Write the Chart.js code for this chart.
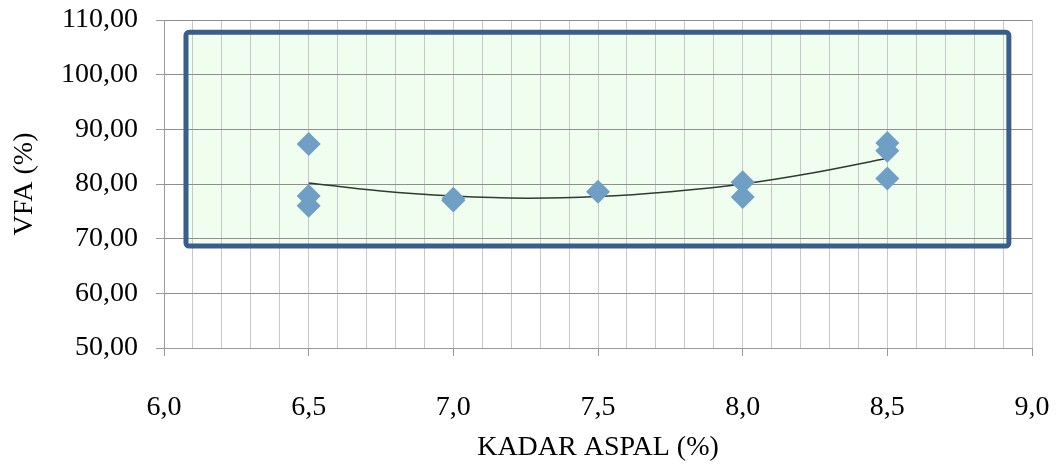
<!DOCTYPE html>
<html>
<head>
<meta charset="utf-8">
<script src="https://cdn.jsdelivr.net/npm/chart.js@4"></script>
<style>
  html, body { margin: 0; padding: 0; background: #fff; }
  #wrap { width: 1057px; height: 470px; }
</style>
</head>
<body>
<div id="wrap"><canvas id="grafica" width="1057" height="470"></canvas></div>
<script>
// data
const kadarAspal = [6.5, 6.5, 6.5, 7.0, 7.0, 7.5, 8.0, 8.0, 8.5, 8.5, 8.5];
const nilaiVFA   = [87.3, 77.8, 76.0, 77.3, 77.0, 78.6, 80.3, 77.6, 87.5, 86.1, 81.0];

// trend line
const trendX = [6.5, 6.75, 7.0, 7.25, 7.5, 7.75, 8.0, 8.25, 8.5];
const trendY = [80.2, 78.7, 77.8, 77.4, 77.7, 78.6, 80.0, 82.1, 84.7];

// highlighted region, in data units
const kotakX = [6.076, 8.92];
const kotakY = [68.66, 107.75];

const titikData = kadarAspal.map((x, i) => ({ x: x, y: nilaiVFA[i] }));
const titikTrend = trendX.map((x, i) => ({ x: x, y: trendY[i] }));

function formatKoma(v, dec) {
    return v.toFixed(dec).replace(".", ",");
}

function kotakPath(ctx, chart) {
    const sx = chart.scales.x, sy = chart.scales.y;
    const x1 = sx.getPixelForValue(kotakX[0]);
    const x2 = sx.getPixelForValue(kotakX[1]);
    const y1 = sy.getPixelForValue(kotakY[1]);
    const y2 = sy.getPixelForValue(kotakY[0]);
    ctx.beginPath();
    if (ctx.roundRect) ctx.roundRect(x1, y1, x2 - x1, y2 - y1, 3);
    else ctx.rect(x1, y1, x2 - x1, y2 - y1);
}

const kotakPlugin = {
    id: "kotak",
    beforeDraw(chart) {
        const ctx = chart.ctx;
        ctx.save();
        ctx.fillStyle = "#fff";
        ctx.fillRect(0, 0, chart.width, chart.height);
        kotakPath(ctx, chart);
        ctx.fillStyle = "#EFFEEF";
        ctx.fill();
        ctx.restore();
    },
    beforeDatasetsDraw(chart) {
        const ctx = chart.ctx;
        ctx.save();
        kotakPath(ctx, chart);
        ctx.lineWidth = 5;
        ctx.strokeStyle = "#3A5E8C";
        ctx.stroke();
        ctx.restore();
    }
};

function isMajor(v) {
    return Math.abs(v * 2 - Math.round(v * 2)) < 1e-6;
}

const fontSerif = { family: "'Liberation Serif', 'Times New Roman', serif", size: 28 };

new Chart(document.getElementById("grafica").getContext("2d"), {
    type: "scatter",
    data: {
        datasets: [
            {
                label: "Trend",
                type: "line",
                data: titikTrend,
                borderColor: "#2E3B2E",
                borderWidth: 1.5,
                pointRadius: 0,
                tension: 0.35,
                fill: false,
                order: 2
            },
            {
                label: "VFA",
                data: titikData,
                pointStyle: "rectRot",
                pointRadius: 12,
                backgroundColor: "#6F9FC4",
                borderColor: "#6F9FC4",
                borderWidth: 0,
                order: 1
            }
        ]
    },
    options: {
        responsive: false,
        animation: false,
        layout: { padding: { top: 20, right: 25, left: 0, bottom: 0 } },
        plugins: { legend: { display: false }, tooltip: { enabled: false } },
        scales: {
            x: {
                type: "linear",
                min: 6, max: 9,
                afterBuildTicks(scale) {
                    const t = [];
                    for (let i = 0; i <= 30; i++) t.push({ value: 6 + i / 10 });
                    scale.ticks = t;
                },
                afterFit(scale) {
                    scale.height = 122;
                    scale.paddingLeft = 0;
                    scale.paddingRight = 0;
                },
                ticks: {
                    autoSkip: false,
                    maxRotation: 0,
                    color: "#000",
                    font: fontSerif,
                    padding: 35,
                    callback: (v) => isMajor(v) ? formatKoma(v, 1) : ""
                },
                grid: {
                    color: "#C8C8C8",
                    lineWidth: 1,
                    tickLength: 8,
                    tickColor: (c) => isMajor(c.tick.value) ? "#9A9A9A" : "rgba(0,0,0,0)"
                },
                border: { color: "#9A9A9A", width: 1 },
                title: {
                    display: true,
                    text: "KADAR ASPAL (%)",
                    color: "#000",
                    font: fontSerif,
                    padding: { top: 4, bottom: 6 }
                }
            },
            y: {
                min: 50, max: 110,
                afterFit(scale) {
                    scale.width = 164;
                    scale.paddingTop = 0;
                    scale.paddingBottom = 0;
                },
                ticks: {
                    stepSize: 10,
                    color: "#000",
                    font: fontSerif,
                    padding: 18,
                    callback: (v) => formatKoma(v, 2)
                },
                grid: {
                    color: "#8E8E8E",
                    lineWidth: 1,
                    tickLength: 8,
                    tickColor: "#9A9A9A"
                },
                border: { color: "#9A9A9A", width: 1 },
                title: {
                    display: true,
                    text: "VFA (%)",
                    color: "#000",
                    font: fontSerif,
                    padding: { top: 8, bottom: 4 }
                }
            }
        }
    },
    plugins: [kotakPlugin]
});
</script>
</body>
</html>
